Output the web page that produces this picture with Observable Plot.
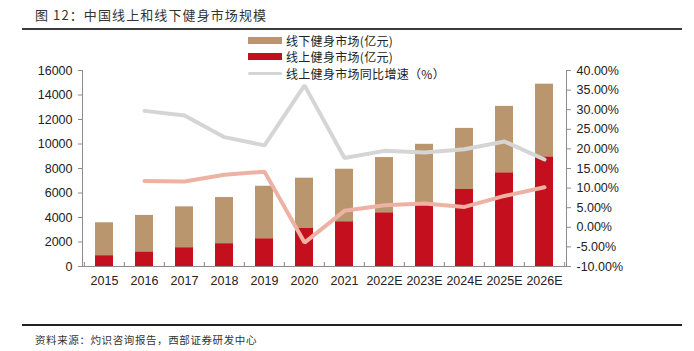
<!DOCTYPE html>
<html><head><meta charset="utf-8">
<script src="https://cdn.jsdelivr.net/npm/d3@7"></script>
<script src="https://cdn.jsdelivr.net/npm/@observablehq/plot@0.6"></script>
<style>
body{margin:0;background:#fff;width:694px;height:351px;position:relative;overflow:hidden;font-family:"Noto Sans CJK SC",sans-serif;}
#title{position:absolute;left:22px;top:0;width:660px;height:28px;border-bottom:2px solid #3c3c3c;}
#title span{position:absolute;left:13px;top:5px;font-size:13px;letter-spacing:1.1px;color:#333;white-space:nowrap;}
#chart{position:absolute;left:0;top:30px;}
#legend{position:absolute;left:248px;top:32px;font-size:12px;color:#222;letter-spacing:0.3px;}
.row{display:flex;align-items:center;height:16.5px;white-space:nowrap;}
.sw{width:34px;height:7px;margin-right:4px;}
.ln{width:34px;height:3.5px;margin-right:4px;border-radius:2px;}
#caption{position:absolute;left:22px;top:324px;width:660px;height:27px;border-top:2px solid #222;}
#caption span{position:absolute;left:13px;top:6px;font-size:10.5px;letter-spacing:0.6px;color:#333;white-space:nowrap;}
</style></head>
<body>
<div id="title"><span>图 12：中国线上和线下健身市场规模</span></div>
<div id="chart"></div>
<div id="legend">
  <div class="row"><div class="sw" style="background:#B9966E"></div>线下健身市场(亿元)</div>
  <div class="row"><div class="sw" style="background:#C4101E"></div>线上健身市场(亿元)</div>
  <div class="row"><div class="ln" style="background:#D5D5D5"></div>线上健身市场同比增速（%）</div>
</div>
<div id="caption"><span>资料来源：灼识咨询报告，西部证券研发中心</span></div>
<script>
const years = ["2015","2016","2017","2018","2019","2020","2021","2022E","2023E","2024E","2025E","2026E"];
const online = [880, 1180, 1530, 1860, 2260, 3110, 3650, 4380, 5190, 6285, 7640, 8940];
const offline = [2690, 2990, 3340, 3770, 4290, 4100, 4290, 4510, 4785, 4990, 5430, 5945];
const onlineGrowth = [null, 29.7, 28.5, 23.0, 20.9, 36.2, 17.7, 19.5, 19.1, 19.9, 21.9, 17.3];
const offlineGrowth = [null, 11.8, 11.7, 13.4, 14.2, -3.9, 4.2, 5.6, 6.1, 5.2, 8.0, 10.2];
const leftTicks = [0,2000,4000,6000,8000,10000,12000,14000,16000];
const rightTicks = [-10,-5,0,5,10,15,20,25,30,35,40];

const YMAX = 16000, PMIN = -10, PMAX = 40;
const toY = p => (p - PMIN) / (PMAX - PMIN) * YMAX;
const fromY = v => v / YMAX * (PMAX - PMIN) + PMIN;

const rows = years.map((year, i) => ({year, online: online[i], offline: offline[i], total: online[i] + offline[i], og: onlineGrowth[i], fg: offlineGrowth[i]}));
const lineRows = rows.filter(d => d.og != null);

const W = 694, H = 290, ML = 82, MR = 128, MT = 40, MB = 54;
const step = (W - ML - MR) / years.length;
const tickLen = 4 * YMAX / (H - MT - MB);

const chart = Plot.plot({
  width: W, height: H, marginTop: MT, marginBottom: MB, marginLeft: ML, marginRight: MR,
  style: {fontFamily: '"Liberation Sans", Arial, sans-serif', fontSize: "12.5px", color: "#222", background: "transparent", overflow: "visible"},
  x: {type: "band", domain: years, paddingInner: 0.56, paddingOuter: 0.28},
  y: {domain: [0, YMAX]},
  marks: [
    Plot.barY(rows, {x: "year", y1: "online", y2: "total", fill: "#B9966E"}),
    Plot.barY(rows, {x: "year", y1: 0, y2: "online", fill: "#C4101E"}),
    Plot.line(lineRows, {x: "year", y: d => toY(d.fg), stroke: "#EDB2A3", strokeWidth: 4, strokeLinejoin: "miter"}),
    Plot.line(lineRows, {x: "year", y: d => toY(d.og), stroke: "#D5D5D5", strokeWidth: 4, strokeLinejoin: "miter"}),
    Plot.frame({anchor: "left", stroke: "#8c8c8c"}),
    Plot.frame({anchor: "right", stroke: "#8c8c8c"}),
    Plot.ruleY([0], {stroke: "#8c8c8c"}),
    Plot.ruleX(years, {x: d => d, dx: -step / 2, y1: 0, y2: tickLen, stroke: "#8c8c8c"}),
    Plot.ruleX(years.slice(-1), {x: d => d, dx: step / 2, y1: 0, y2: tickLen, stroke: "#8c8c8c"}),
    Plot.axisY({anchor: "left", ticks: leftTicks, tickSize: 4, tickPadding: 6, tickFormat: d => String(d), stroke: "#8c8c8c", fill: "#222", label: null}),
    Plot.axisY({anchor: "right", ticks: rightTicks.map(toY), tickSize: 4, tickPadding: 6, tickFormat: v => (Math.round(fromY(v) * 100) / 100 + 0).toFixed(2) + "%", stroke: "#8c8c8c", fill: "#222", label: null}),
    Plot.axisX({tickSize: 0, tickPadding: 10, fill: "#222", label: null})
  ]
});
document.getElementById("chart").appendChild(chart);
</script>
</body></html>
